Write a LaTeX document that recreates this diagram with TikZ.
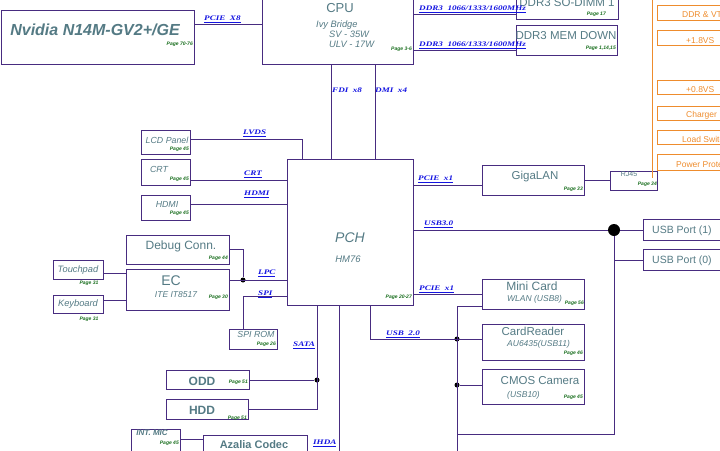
\documentclass[tikz,border=0pt]{standalone}
\usepackage{fontspec}
\setmainfont{Liberation Sans}
\newfontfamily\sigfont{Liberation Serif}
\usetikzlibrary{calc}
\definecolor{lineC}{RGB}{72,44,128}
\definecolor{titleC}{RGB}{84,122,132}
\definecolor{blueC}{RGB}{20,20,225}
\definecolor{pageC}{RGB}{25,110,30}
\definecolor{orangeC}{RGB}{238,140,45}
\tikzset{
  box/.style={draw=lineC, line width=0.9pt, inner sep=0pt, anchor=north west},
  obox/.style={draw=orangeC, line width=0.8pt, inner sep=0pt, anchor=north west},
  wire/.style={draw=lineC, line width=0.9pt},
  ttl/.style={text=titleC, font=\fontsize{11.5}{12}\selectfont, inner sep=0pt},
  sub/.style={text=titleC, font=\fontsize{8.5}{9}\selectfont\itshape, inner sep=0pt},
  sml/.style={text=titleC, font=\fontsize{8.8}{9}\selectfont\itshape, inner sep=0pt},
  pg/.style={text=pageC, font=\fontsize{5}{5}\selectfont\bfseries\itshape, inner sep=0pt},
  sig/.style={text=blueC, font=\sigfont\fontsize{7}{7}\selectfont\bfseries\itshape, inner sep=0pt, anchor=west},
  otxt/.style={text=orangeC, font=\fontsize{8.5}{9}\selectfont, inner sep=0pt, anchor=west},
  jdot/.style={circle, fill=black, inner sep=0pt, minimum size=5pt},
}
\newcommand{\sg}[1]{\scalebox{1.3}[1]{\underline{#1}}}
\newcommand{\sgn}[1]{\scalebox{1.3}[1]{#1}}
\begin{document}
\begin{tikzpicture}[x=1pt,y=-1pt]
\useasboundingbox (0,0) rectangle (720,450);
\clip (0,0) rectangle (720,450);

% ---------- boxes ----------
\node[box, minimum width=193pt, minimum height=54pt] (nv) at (0.5,10) {};
\node[box, minimum width=151pt, minimum height=74pt] (cpu) at (262,-10) {};
\node[box, minimum width=102pt, minimum height=29pt] (dimm) at (516,-10) {};
\node[box, minimum width=101pt, minimum height=30pt] (memd) at (516,25) {};
\node[box, minimum width=47pt, minimum height=19pt] (rj45) at (610,171) {};
\node[box, minimum width=102pt, minimum height=30pt] (giga) at (482,165) {};
\node[box, minimum width=126pt, minimum height=146pt] (pch) at (287,159) {};
\node[box, minimum width=90pt, minimum height=21pt] (usb1) at (643,219) {};
\node[box, minimum width=90pt, minimum height=21pt] (usb0) at (643,249) {};
\node[box, minimum width=102pt, minimum height=30pt] (mini) at (482,279) {};
\node[box, minimum width=102pt, minimum height=36pt] (card) at (482,324) {};
\node[box, minimum width=102pt, minimum height=35pt] (cmos) at (482,369) {};
\node[box, minimum width=49pt, minimum height=24pt] (lcd) at (141,130) {};
\node[box, minimum width=49pt, minimum height=26pt] (crt) at (141,159) {};
\node[box, minimum width=49pt, minimum height=25pt] (hdmi) at (141,195) {};
\node[box, minimum width=103pt, minimum height=29pt] (debug) at (126,235) {};
\node[box, minimum width=103pt, minimum height=41pt] (ec) at (126,269) {};
\node[box, minimum width=48pt, minimum height=20pt] (spirom) at (229,329) {};
\node[box, minimum width=50pt, minimum height=19pt] (touch) at (53,260) {};
\node[box, minimum width=50pt, minimum height=18pt] (kbd) at (53,295) {};
\node[box, minimum width=83pt, minimum height=19pt] (odd) at (166,370) {};
\node[box, minimum width=82pt, minimum height=20pt] (hdd) at (166,399) {};
\node[box, minimum width=49pt, minimum height=30pt] (mic) at (131,429) {};
\node[box, minimum width=104pt, minimum height=30pt] (azalia) at (203,435) {};

% orange power column
\coordinate (otop) at (652,0);
\coordinate (obot) at (652,178);
\draw[orangeC, line width=0.8pt] (otop) -- (obot);
\node[obox, minimum width=80pt, minimum height=15pt] (o1) at (657,5) {};
\node[obox, minimum width=80pt, minimum height=15pt] (o2) at (657,30) {};
\node[obox, minimum width=80pt, minimum height=14pt] (o3) at (657,80) {};
\node[obox, minimum width=80pt, minimum height=14pt] (o4) at (657,106) {};
\node[obox, minimum width=80pt, minimum height=14pt] (o5) at (657,130) {};
\node[obox, minimum width=80pt, minimum height=16pt] (o6) at (657,154) {};
\node[otxt] (t-o1) at (682,15) {DDR \& VTT};
\node[otxt] (t-o2) at (686,41) {+1.8VS};
\node[otxt] (t-o3) at (686,90) {+0.8VS};
\node[otxt] (t-o4) at (686,115) {Charger};
\node[otxt] (t-o5) at (682,139) {Load Switch};
\node[otxt] (t-o6) at (676,165) {Power Protect};

% ---------- texts ----------
\node[text=titleC, font=\fontsize{16}{18}\selectfont\bfseries\itshape, inner sep=0pt] (t-nv) at (95,30) {Nvidia N14M-GV2+/GE};
\node[pg, anchor=east] (p-nv) at (193,44) {Page 70-76};
\node[ttl, font=\fontsize{13}{13}\selectfont] (t-cpu) at (340,8) {CPU};
\node[sub, font=\fontsize{9.3}{10}\selectfont\itshape, anchor=west] (s-cpu1) at (316,25) {Ivy Bridge};
\node[sub, font=\fontsize{9.3}{10}\selectfont\itshape, anchor=west] (s-cpu2) at (329,34.5) {SV - 35W};
\node[sub, font=\fontsize{9.3}{10}\selectfont\itshape, anchor=west] (s-cpu3) at (329,44) {ULV - 17W};
\node[pg, anchor=east] (p-cpu) at (412,49) {Page 3-6};
\node[ttl] (t-dimm) at (567,3) {DDR3 SO-DIMM 1};
\node[pg, anchor=east] (p-dimm) at (606,14) {Page 17};
\node[ttl] (t-memd) at (566,36) {DDR3 MEM DOWN};
\node[pg, anchor=east] (p-memd) at (616,48) {Page 1,14,15};
\node[sub, font=\fontsize{7}{7}\selectfont] (t-rj) at (629,174) {RJ45};
\node[pg, anchor=east] (p-rj) at (657,184) {Page 34};
\node[ttl] (t-giga) at (535,177) {GigaLAN};
\node[pg, anchor=east] (p-giga) at (583,189) {Page 33};
\node[text=titleC, font=\fontsize{14}{15}\selectfont\itshape, inner sep=0pt] (t-pch) at (350,238) {PCH};
\node[sub, font=\fontsize{9.5}{10}\selectfont\itshape] (s-pch) at (348,259) {HM76};
\node[pg, anchor=east] (p-pch) at (412,297) {Page 20-27};
\node[ttl, font=\fontsize{10.5}{11}\selectfont, anchor=west] (t-usb1) at (652,231) {USB Port (1)};
\node[ttl, font=\fontsize{10.5}{11}\selectfont, anchor=west] (t-usb0) at (652,261) {USB Port (0)};
\node[ttl, font=\fontsize{12}{12}\selectfont] (t-mini) at (532,286) {Mini Card};
\node[sub, anchor=west] (s-mini) at (507,299) {WLAN (USB8)};
\node[pg, anchor=east] (p-mini) at (584,303) {Page 56};
\node[ttl] (t-card) at (533,331) {CardReader};
\node[sub, anchor=west] (s-card) at (507,344) {AU6435(USB11)};
\node[pg, anchor=east] (p-card) at (583,353) {Page 46};
\node[ttl] (t-cmos) at (540,381) {CMOS Camera};
\node[sub, anchor=west] (s-cmos) at (507,395) {(USB10)};
\node[pg, anchor=east] (p-cmos) at (583,397) {Page 45};
\node[sml] (t-lcd) at (167,140) {LCD Panel};
\node[pg, anchor=east] (p-lcd) at (189,149) {Page 45};
\node[sml] (t-crt) at (159,169) {CRT};
\node[pg, anchor=east] (p-crt) at (189,179) {Page 45};
\node[sml] (t-hdmi) at (167,204) {HDMI};
\node[pg, anchor=east] (p-hdmi) at (189,213) {Page 45};
\node[ttl, font=\fontsize{12}{12}\selectfont] (t-debug) at (181,246) {Debug Conn.};
\node[pg, anchor=east] (p-debug) at (228,258) {Page 44};
\node[ttl, font=\fontsize{14}{14}\selectfont] (t-ec) at (171,281) {EC};
\node[sub] (s-ec) at (176,295) {ITE IT8517};
\node[pg, anchor=east] (p-ec) at (228,297) {Page 30};
\node[sml] (t-spi) at (256,334) {SPI ROM};
\node[pg, anchor=east] (p-spi) at (276,344) {Page 26};
\node[sml, font=\fontsize{9.3}{10}\selectfont\itshape] (t-touch) at (78,270) {Touchpad};
\node[pg] (p-touch) at (89,283) {Page 31};
\node[sml, font=\fontsize{9.3}{10}\selectfont\itshape] (t-kbd) at (78,304) {Keyboard};
\node[pg] (p-kbd) at (89,319) {Page 31};
\node[ttl, font=\fontsize{12}{13}\selectfont\bfseries] (t-odd) at (202,381) {ODD};
\node[pg, anchor=east] (p-odd) at (248,382) {Page 51};
\node[ttl, font=\fontsize{12}{13}\selectfont\bfseries] (t-hdd) at (202,410) {HDD};
\node[pg, anchor=east] (p-hdd) at (247,418) {Page 51};
\node[sml, font=\fontsize{8}{8}\selectfont\bfseries\itshape] (t-mic) at (152,433) {INT. MIC};
\node[pg, anchor=east] (p-mic) at (179,443) {Page 45};
\node[ttl, font=\fontsize{11}{12}\selectfont\bfseries] (t-az) at (254,445) {Azalia Codec};

% ---------- signal labels ----------
\node[sig] (l-pcie8) at (204,19) {\sg{PCIE\ \ X8}};
\node[sig] (l-ddr1) at (419,9.5) {\sg{DDR3\ \ 1066/1333/1600MHz}};
\node[sig] (l-ddr2) at (419,45.5) {\sg{DDR3\ \ 1066/1333/1600MHz}};
\node[sig] (l-fdi) at (332,90) {\sgn{FDI\ \ x8}};
\node[sig] (l-dmi) at (375,90) {\sgn{DMI\ \ x4}};
\node[sig] (l-lvds) at (243,133) {\sg{LVDS}};
\node[sig] (l-crt) at (244,174) {\sg{CRT}};
\node[sig] (l-hdmi) at (244,194) {\sg{HDMI}};
\node[sig] (l-lpc) at (258,273) {\sg{LPC}};
\node[sig] (l-spi) at (258,294) {\sg{SPI}};
\node[sig] (l-sata) at (293,345) {\sg{SATA}};
\node[sig] (l-ihda) at (313,443) {\sg{IHDA}};
\node[sig] (l-pcie1a) at (418,179) {\sg{PCIE\ \ x1}};
\node[sig] (l-usb3) at (424,224) {\sg{USB3.0}};
\node[sig] (l-pcie1b) at (419,289) {\sg{PCIE\ \ x1}};
\node[sig] (l-usb2) at (386,334) {\sg{USB\ \ 2.0}};

% ---------- junctions ----------
\node[jdot] (lpcdot) at (243,280) {};
\node[jdot] (satadot) at (317,380) {};
\node[jdot] (usb2dot) at (457,339) {};
\node[jdot] (cmosdot) at (457,385) {};
\node[jdot, minimum size=12pt] (usbdot) at (614,230) {};
\coordinate (busend) at (457,460);
\coordinate (usbcorner) at (614,434);
\coordinate (ihdaend) at (339,455);

% ---------- connectors ----------
\draw[wire] (nv.east |- 0,24) -- (cpu.west |- 0,24);
\draw[wire] (cpu.east |- 0,14) -- (dimm.west |- 0,14);
\draw[wire] (cpu.east |- 0,50) -- (memd.west |- 0,50);
\draw[wire] (cpu.south -| 331,0) -- (pch.north -| 331,0);
\draw[wire] (cpu.south -| 375,0) -- (pch.north -| 375,0);
\draw[wire] (lcd.east |- 0,139) -| (pch.north -| 302,0);
\draw[wire] (crt.east |- 0,180) -- (pch.west |- 0,180);
\draw[wire] (hdmi.east |- 0,204) -- (pch.west |- 0,204);
\draw[wire] (debug.east |- 0,249) -| (lpcdot);
\draw[wire] (ec.east |- 0,280) -- (pch.west |- 0,280);
\draw[wire] (pch.west |- 0,296) -| (spirom.north -| 243,0);
\draw[wire] (touch.east |- 0,273) -- (ec.west |- 0,273);
\draw[wire] (kbd.east |- 0,300) -- (ec.west |- 0,300);
\draw[wire] (pch.south -| 317,0) |- (hdd.east |- 0,409);
\draw[wire] (odd.east |- 0,380) -- (satadot);
\draw[wire] (pch.south -| 339,0) -- (ihdaend);
\draw[wire] (mic.east |- 0,439) -- (azalia.west |- 0,439);
\draw[wire] (pch.south -| 370,0) |- (card.west |- 0,339);
\draw[wire] (mini.west |- 0,306) -| (busend);
\draw[wire] (cmosdot) -- (cmos.west |- 0,385);
\draw[wire] (pch.east |- 0,294) -- (mini.west |- 0,294);
\draw[wire] (pch.east |- 0,185) -- (giga.west |- 0,185);
\draw[wire] (giga.east |- 0,180) -- (rj45.west |- 0,180);
\draw[wire] (pch.east |- 0,230) -- (usbdot);
\draw[wire] (usbdot) -- (usb1.west |- 0,230);
\draw[wire] (usbdot) -- (usbcorner) -- (usbcorner -| busend);
\draw[wire] (usbdot |- 0,260) -- (usb0.west |- 0,260);
\end{tikzpicture}
\end{document}
